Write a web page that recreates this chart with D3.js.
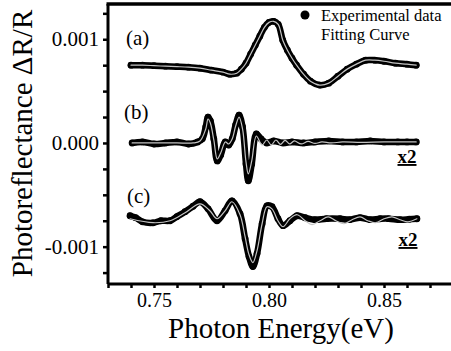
<!DOCTYPE html>
<html><head><meta charset="utf-8">
<script src="https://cdn.jsdelivr.net/npm/d3@7"></script>
<style>body{margin:0;background:#fff}</style>
</head><body>
<svg id="c" width="451" height="351"></svg>
<script>
// ---- data ----
const energyA = [0.740,0.745,0.750,0.755,0.760,0.765,0.770,0.775,0.780,0.783,0.786,0.788,0.790,0.792,0.794,0.796,0.798,0.800,0.802,0.804,0.806,0.808,0.810,0.812,0.815,0.818,0.822,0.826,0.830,0.834,0.838,0.842,0.846,0.850,0.855,0.860,0.864];
const expA = [0.00075,0.00075,0.000745,0.00074,0.000736,0.000731,0.000721,0.000702,0.000683,0.000663,0.000673,0.000712,0.000769,0.000856,0.000942,0.001029,0.001115,0.001163,0.001173,0.001144,0.00099,0.000894,0.000817,0.00075,0.000663,0.000596,0.000558,0.000577,0.000644,0.000712,0.00076,0.000798,0.000798,0.000788,0.000769,0.00076,0.00075];
const fitA = [0.00075,0.00075,0.000745,0.00074,0.000736,0.000731,0.000721,0.000702,0.000683,0.000663,0.000673,0.000712,0.000769,0.000856,0.000942,0.001029,0.001115,0.001163,0.001173,0.001144,0.00099,0.000894,0.000817,0.00075,0.000663,0.000596,0.000558,0.000577,0.000644,0.000712,0.00076,0.000798,0.000798,0.000788,0.000769,0.00076,0.00075];

const energyB = [0.7405,0.745,0.750,0.755,0.760,0.765,0.769,0.771,0.7725,0.7735,0.7745,0.776,0.7775,0.779,0.781,0.7825,0.784,0.7855,0.787,0.7885,0.790,0.791,0.7925,0.7945,0.7965,0.799,0.802,0.806,0.810,0.815,0.820,0.826,0.832,0.838,0.844,0.850,0.856,0.860,0.864];
const expB = [0.0,0.00001,-0.00001,0.0,0.00001,-0.00001,0.00001,0.00004,0.000154,0.00025,0.000212,0.00004,-0.000173,-0.000115,0.00001,-0.00002,0.00004,0.000173,0.000269,0.000154,-0.000202,-0.000365,-0.000202,0.000087,0.00004,0.0,0.00002,0.0,0.00001,0.0,0.00001,0.00002,0.00001,0.00001,0.00002,0.00001,0.00001,0.00001,0.00001];
const energyFitB = [0.7405,0.750,0.760,0.767,0.770,0.7725,0.7735,0.7745,0.776,0.7775,0.779,0.781,0.7825,0.784,0.7855,0.787,0.7885,0.790,0.791,0.7925,0.7945,0.797,0.799,0.801,0.803,0.805,0.807,0.809,0.811,0.814,0.817,0.820,0.823,0.827,0.832,0.840,0.850,0.864];
const fitB = [0.0,0.0,0.0,0.0,0.0000192,0.000135,0.000231,0.000192,0.0000288,-0.000154,-0.0000962,0.0000096,-0.0000096,0.0000385,0.000163,0.00025,0.000135,-0.000183,-0.000298,-0.000173,0.0000673,-0.0000192,0.0000288,-0.0000192,0.0000288,-0.0000144,0.000024,-0.0000096,0.0000192,-0.0000096,0.0000144,-0.0000048,0.0000096,0.0,0.0000096,0.0000048,0.0000096,0.0000096];

const energyC = [0.7396,0.742,0.745,0.7496,0.753,0.757,0.760,0.7635,0.767,0.770,0.7735,0.7774,0.7809,0.7839,0.7874,0.7896,0.7913,0.7930,0.7948,0.7970,0.7991,0.8013,0.8039,0.8061,0.8091,0.8122,0.8157,0.820,0.825,0.8309,0.835,0.8396,0.844,0.8483,0.852,0.8570,0.861,0.8643];
const expC = [-0.000702,-0.00072,-0.00076,-0.00077,-0.00075,-0.00075,-0.00071,-0.000663,-0.00061,-0.000567,-0.000635,-0.00075,-0.000654,-0.000558,-0.000683,-0.000923,-0.001096,-0.001192,-0.001067,-0.000779,-0.000606,-0.000615,-0.000731,-0.000798,-0.00075,-0.000702,-0.000721,-0.00074,-0.00073,-0.000731,-0.00074,-0.00072,-0.00074,-0.000731,-0.00073,-0.00074,-0.000735,-0.000731];
const energyFitC = [0.7396,0.7496,0.7570,0.7635,0.7700,0.7743,0.7774,0.7809,0.7839,0.7874,0.7896,0.7913,0.7930,0.7948,0.7970,0.7991,0.8013,0.8039,0.8061,0.8091,0.8122,0.8157,0.8187,0.8222,0.8257,0.8291,0.8326,0.8361,0.8396,0.8430,0.8465,0.8500,0.8535,0.8570,0.8604,0.8643];
const fitC = [-0.000731,-0.000769,-0.00075,-0.000673,-0.000587,-0.000654,-0.000731,-0.000654,-0.000567,-0.000692,-0.000904,-0.001077,-0.001154,-0.001038,-0.000779,-0.000615,-0.000635,-0.00075,-0.000808,-0.000731,-0.000692,-0.00075,-0.000788,-0.00075,-0.000712,-0.00075,-0.000779,-0.00074,-0.000712,-0.00075,-0.000769,-0.000731,-0.000712,-0.00074,-0.00076,-0.000731];

const xTicks = [0.73,0.74,0.75,0.76,0.77,0.78,0.79,0.80,0.81,0.82,0.83,0.84,0.85,0.86,0.87];
const xLabels = [0.75,0.80,0.85];
const yTicks = [-0.00125,-0.001,-0.00075,-0.0005,-0.00025,0,0.00025,0.0005,0.00075,0.001,0.00125];
const yLabels = [-0.001,0,0.001];
const panelLabels = ["(a)","(b)","(c)"];
const legendLabels = ["Experimental data","Fitting Curve"];

// ---- chart ----
const FONT = "'Liberation Serif','Times New Roman',serif";
const svg = d3.select("#c");
const x = d3.scaleLinear().domain([0.73,0.88]).range([108,453]);
const y = d3.scaleLinear().domain([-0.00136,0.00134]).range([284,4]);

const fmtY = v => yLabels.some(l => Math.abs(l - v) < 1e-9) ? d3.format(".3f")(v).replace("\u2212","-") : "";
const fmtX = v => xLabels.some(l => Math.abs(l - v) < 1e-9) ? d3.format(".2f")(v) : "";

const gx = svg.append("g").attr("transform", `translate(0,${y.range()[0]})`)
  .call(d3.axisBottom(x).tickValues(xTicks).tickFormat(fmtX).tickSize(4).tickPadding(5));
const gy = svg.append("g").attr("transform", `translate(${x.range()[0]},0)`)
  .call(d3.axisLeft(y).tickValues(yTicks).tickFormat(fmtY).tickSize(5).tickPadding(4));
[gx, gy].forEach(g => {
  g.attr("font-family", FONT);
  g.select(".domain").attr("stroke","#000").attr("stroke-width",3);
  g.selectAll(".tick line").attr("stroke","#000").attr("stroke-width",2.5);
  g.selectAll(".tick text").attr("fill","#000").attr("font-family",FONT).style("font-family",FONT).style("font-size","20px");
});
gy.selectAll(".tick text").style("font-size","21px");
gx.select(".domain").attr("d", `M${x.range()[0]},0H${x.range()[1]}`);
gy.select(".domain").attr("d", `M0,${y.range()[0]}V${y.range()[1]}`);
// top frame line
svg.append("line").attr("x1",x.range()[0]-1.5).attr("x2",x.range()[1]).attr("y1",y.range()[1]).attr("y2",y.range()[1])
  .attr("stroke","#000").attr("stroke-width",3.5);

const series = [
  {e:energyA, v:expA, fe:energyA, fv:fitA},
  {e:energyB, v:expB, fe:energyFitB, fv:fitB},
  {e:energyC, v:expC, fe:energyFitC, fv:fitC}
];
const line = d3.line().x(d=>x(d[0])).y(d=>y(d[1])).curve(d3.curveCatmullRom.alpha(0.5));
series.forEach(s => {
  const pts = s.e.map((e,i)=>[e,s.v[i]]);
  svg.append("path").attr("d", line(pts)).attr("fill","none").attr("stroke","#000")
    .attr("stroke-width",6.5).attr("stroke-linecap","round").attr("stroke-linejoin","round");
  svg.append("g").selectAll("circle").data(pts).join("circle")
    .attr("cx",d=>x(d[0])).attr("cy",d=>y(d[1])).attr("r",3.4).attr("fill","#000");
  const fpts = s.fe.map((e,i)=>[e,s.fv[i]]);
  svg.append("path").attr("d", line(fpts)).attr("fill","none").attr("stroke","#c4c4c4")
    .attr("stroke-width",1.2).attr("stroke-linecap","round");
});

// panel labels
const labelPos = [[126,45],[124,119],[127,203]];
panelLabels.forEach((t,i)=>{
  svg.append("text").attr("x",labelPos[i][0]).attr("y",labelPos[i][1]).text(t)
    .style("font-family",FONT).style("font-size","21px");
});
// x2 labels
[[407,163],[408,246]].forEach(p=>{
  svg.append("text").attr("x",p[0]).attr("y",p[1]).attr("text-anchor","middle").text("x2")
    .style("font-family",FONT).style("font-size","19px").style("font-weight","bold")
    .style("text-decoration","underline");
});
// legend
svg.append("circle").attr("cx",305).attr("cy",15).attr("r",4.5).attr("fill","#000");
svg.append("text").attr("x",321).attr("y",21).text(legendLabels[0]).style("font-family",FONT).style("font-size","16.5px");
svg.append("text").attr("x",321).attr("y",40).text(legendLabels[1]).style("font-family",FONT).style("font-size","16.5px");

// axis titles
svg.append("text").attr("x",281).attr("y",338).attr("text-anchor","middle").text("Photon Energy(eV)")
  .style("font-family",FONT).style("font-size","29px");
svg.append("text").attr("transform","translate(32,143.5) rotate(-90)").attr("text-anchor","middle")
  .text("Photoreflectance \u0394R/R").style("font-family",FONT).style("font-size","29px");
</script>
</body></html>
